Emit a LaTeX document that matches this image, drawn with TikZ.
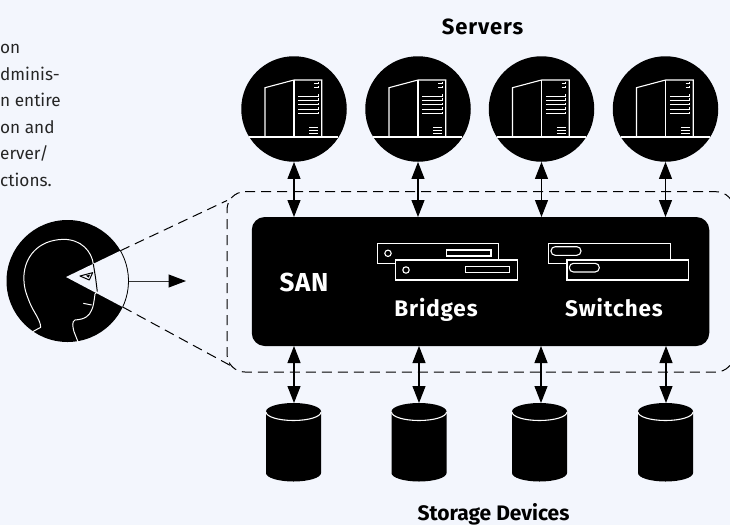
\documentclass[tikz,border=0pt]{standalone}
\usepackage{fontspec}
\setmainfont{Fira Sans}
\usetikzlibrary{arrows.meta}
\definecolor{bgc}{HTML}{F3F6FD}
\tikzset{
  biarrow/.style={line width=1.1pt,{Triangle[length=17pt,width=13pt]}-{Triangle[length=17pt,width=13pt]}},
  icon/.style={draw=white,line width=1.1pt},
  hdash/.style={line width=1pt,dash pattern=on 10pt off 6pt},
  wlab/.style={text=white,anchor=base},
  blab/.style={text=black,anchor=base},
  para/.style={font=\fontsize{17.2}{18}\selectfont,text=black!85,anchor=base west,inner sep=0pt},
  hub/.style={circle,fill=black,minimum size=105.5pt,inner sep=0pt},
  cyl/.style={fill=black}
}
\newcommand{\labelfont}[2]{\bfseries\fontsize{#1}{#1}\selectfont\addfontfeature{LetterSpace=#2}}
\newcommand{\serverglyph}[1]{%
  \begin{scope}[shift={(#1)}]
    \draw[icon] (-45,28) -- (44,28);
    \draw[icon] (-29,28) -- (-29,-21.3) -- (0,-29) -- (27.7,-29) -- (27.7,28);
    \draw[icon] (0,-29) -- (0,28);
    \foreach \yy in {-13,-9,-4.7,0,4.3} \draw[icon,line width=1pt] (4.3,\yy) -- (24.3,\yy) -- (24.3,\yy-1.8);
    \foreach \yy in {-25.7,-21.3} \draw[icon,line width=1pt] (20,\yy) -- (24.3,\yy) -- (24.3,\yy-1.8);
    \foreach \yy in {18.7,21.7,24.3} \draw[icon,line width=1pt] (15.3,\yy) -- (24.3,\yy);
  \end{scope}}
\newcommand{\cylglyph}[1]{%
  \begin{scope}[shift={(#1,0)}]
    \fill[cyl] (-27.5,411.5) arc[start angle=180,end angle=360,x radius=27.5,y radius=8.5]
      -- (27.5,473) arc[start angle=0,end angle=180,x radius=27.5,y radius=8.5] -- cycle;
    \draw[icon] (-27.5,412) arc[start angle=180,end angle=0,x radius=27.5,y radius=8.5];
  \end{scope}}
\begin{document}
\begin{tikzpicture}[x=1pt,y=-1pt]
\useasboundingbox (0,0) rectangle (730,525);
\fill[bgc] (0,0) rectangle (730,525);
\clip (0,0) rectangle (730,525);

% caption
\node[para] (t1) at (0,53.5) {on};
\node[para] (t2) at (0,80) {dminis-};
\node[para] (t3) at (0,106.5) {n entire};
\node[para] (t4) at (0,133) {on and};
\node[para] (t5) at (0,159.5) {erver/};
\node[para] (t6) at (0,186) {ctions.};

\node[blab,font=\labelfont{22}{4}] (servers) at (482.5,34) {Servers};
\node[blab,font=\labelfont{21}{0}] (storage) at (493.5,520) {Storage Devices};

% servers
\foreach \n/\x in {1/294,2/418,3/541.5,4/665.5} {
  \node[hub] (s\n) at (\x,109) {};
  \serverglyph{\x,109}
}

% SAN box
\node[fill=black,rounded corners=13pt,minimum width=457.5pt,minimum height=129pt,inner sep=0pt] (san) at (480.5,281.5) {};
\coordinate (st1) at (294,217);\coordinate (st2) at (418,217);\coordinate (st3) at (541.5,217);\coordinate (st4) at (665.5,217);
\coordinate (sb1) at (294,346);\coordinate (sb2) at (419,346);\coordinate (sb3) at (541,346);\coordinate (sb4) at (666,346);

% dashed region
\draw[hdash] (245,191.7) -- (716,191.7) arc[start angle=-90,end angle=0,radius=18] -- (734,354) arc[start angle=0,end angle=90,radius=18] -- (245,372) arc[start angle=90,end angle=180,radius=18] -- (227,209.7) arc[start angle=180,end angle=270,radius=18] -- cycle;

% storage
\foreach \n/\x in {1/293.5,2/419,3/539.5,4/665.5} {\cylglyph{\x}}
\coordinate (c1) at (294,403);\coordinate (c2) at (419,403);\coordinate (c3) at (541,403);\coordinate (c4) at (666,403);
\foreach \n in {1,2,3,4} {
  \draw[biarrow] (s\n) -- (st\n);
  \draw[biarrow] (sb\n) -- (c\n);
}

% labels in SAN
\node[wlab,font=\labelfont{26}{3}] (sanl) at (304,291.5) {SAN};
\node[wlab,font=\labelfont{22.5}{4}] (bridges) at (436,316.5) {Bridges};
\node[wlab,font=\labelfont{22.5}{4}] (switches) at (614,316.5) {Switches};

% bridges
\draw[icon] (377.3,243.3) rectangle (498.7,263.3);
\draw[icon] (388,253.3) circle (3.2);
\draw[icon] (446.7,250) rectangle (491,256);
\draw[icon,fill=black] (395.7,260) rectangle (517.3,280);
\draw[icon] (406,270) circle (3.2);
\draw[icon] (465.3,266.3) rectangle (509.3,272.3);
% switches
\draw[icon] (548.7,243.3) rectangle (670.3,263.3);
\draw[icon,rounded corners=4.2pt] (551,246.7) rectangle (581,255.3);
\draw[icon,fill=black] (567,260) rectangle (688.7,280);
\draw[icon,rounded corners=4.2pt] (569.3,263.3) rectangle (599.3,272);

% viewer
\node[circle,fill=black,minimum size=122pt,inner sep=0pt] (head) at (67.5,281) {};
\coordinate (wa) at (66,277);
\coordinate (wt) at (120.4,250.7);
\coordinate (wb) at (122.7,307);
\fill[bgc] (wa) -- (wt) arc[start angle=-29.8,end angle=25.2,radius=61] -- cycle;
\draw[line width=.8pt] (wt) arc[start angle=-29.8,end angle=25.2,radius=61];
\begin{scope}[shift={(0,190)},x=.3333pt,y=-.3333pt]
  \draw[white,line width=1pt,line join=round]
    (98,425) -- (122,412) .. controls (122,390) and (100,365) .. (90,340)
    .. controls (78,310) and (70,290) .. (72,255)
    .. controls (75,205) and (110,150) .. (190,148)
    .. controls (245,148) and (275,185) .. (280,222);
  \draw[black,line width=1pt] (280,222) -- (287,265) -- (292,305);
  \draw[white,line width=1pt,line join=round]
    (292,305) -- (285,312) .. controls (282,335) and (280,350) .. (275,360)
    .. controls (268,378) and (255,388) .. (225,390)
    .. controls (215,395) and (218,410) .. (222,425) -- (235,458);
  \draw[white,line width=1pt] (250,340) -- (275,345);
  \draw[black,line width=1pt,line join=round] (240,258) -- (278,248) -- (268,270) -- cycle;
  \fill[black] (258,257) -- (270,254) -- (266,263) -- cycle;
\end{scope}
\coordinate (ha) at (128.5,281);
\coordinate (hb) at (186,281);
\draw[line width=1pt,black!80,-{Triangle[length=17.5pt,width=13pt,color=black]}] (ha) -- (hb);

% sight lines
\coordinate (d1) at (227,200.5);
\coordinate (d2) at (235,368);
\draw[hdash] (wt) -- (d1);
\draw[hdash] (wb) -- (d2);
\end{tikzpicture}
\end{document}
